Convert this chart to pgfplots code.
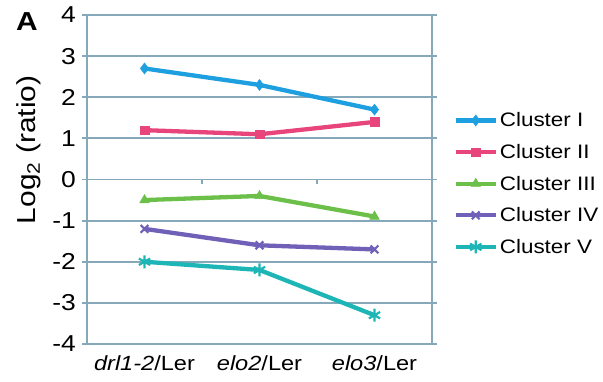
\documentclass[border=0pt]{standalone}
\usepackage{pgfplots}
\pgfplotsset{compat=1.18}
\usepackage{fontspec}
\setmainfont{Liberation Sans}[FakeStretch=1.15]
\definecolor{gridc}{HTML}{85A9BA}
\definecolor{c1}{HTML}{1E9FE0}
\definecolor{c2}{HTML}{E8457C}
\definecolor{c3}{HTML}{6CC04A}
\definecolor{c4}{HTML}{7060B8}
\definecolor{c5}{HTML}{1DB5B5}
\begin{document}
\begin{tikzpicture}
\useasboundingbox (0,0) rectangle (603pt,381pt);
\begin{axis}[
  at={(87pt,37pt)}, anchor=south west,
  scale only axis, width=345pt, height=329pt,
  xmin=-0.5, xmax=2.5, ymin=-4, ymax=4,
  xtick={0,1,2},
  xticklabels={\textit{drl1-2}/Ler, \textit{elo2}/Ler, \textit{elo3}/Ler},
  x tick style={draw=none},
  ytick={-4,-3,...,4},
  ymajorgrids,
  grid style={gridc, line width=1.8pt},
  axis line style={gridc, line width=1.8pt},
  y tick style={gridc, line width=1.8pt},
  tick align=outside, major tick length=5pt,
  /pgf/number format/assume math mode=true,
  yticklabel style={font=\fontsize{23}{26}\selectfont, inner sep=2pt, xshift=-4pt},
  xticklabel style={font=\fontsize{20.5}{23}\selectfont, yshift=-3pt},
  ylabel={Log\textsubscript{2} (ratio)},
  ylabel style={font=\fontsize{26}{30}\selectfont, at={(axis description cs:-0.168,0.59)}, anchor=center, rotate=0},
  legend style={draw=none, fill=none, at={(axis description cs:1.062,0.71)}, anchor=north west,
    font=\fontsize{19.5}{22}\selectfont, row sep=12pt, inner sep=0pt},
  legend cell align=left,
  legend image code/.code={\draw[#1, mark repeat=2, mark phase=2] plot coordinates {(0pt,0pt) (20pt,0pt) (40pt,0pt)};},
  clip=false,
]
\addplot[c1, line width=4.3pt, mark=diamond*, mark size=5.5pt, mark options={line width=0.5pt}] coordinates {(0,2.7) (1,2.3) (2,1.7)};
\addlegendentry{Cluster I}
\addplot[c2, line width=4.3pt, mark=square*, mark size=4.3pt, mark options={line width=0.5pt}] coordinates {(0,1.2) (1,1.1) (2,1.4)};
\addlegendentry{Cluster II}
\addplot[c3, line width=4.3pt, mark=triangle*, mark size=5.5pt, mark options={line width=0.5pt}] coordinates {(0,-0.5) (1,-0.4) (2,-0.9)};
\addlegendentry{Cluster III}
\addplot[c4, line width=4.3pt, mark=x, mark size=5.5pt, mark options={line width=2.2pt}] coordinates {(0,-1.2) (1,-1.6) (2,-1.7)};
\addlegendentry{Cluster IV}
\addplot[c5, line width=4.3pt, mark=asterisk, mark size=6.5pt, mark options={line width=2.2pt}] coordinates {(0,-2.0) (1,-2.2) (2,-3.3)};
\addlegendentry{Cluster V}
\draw[gridc, line width=1.8pt] (axis cs:0.5,0) -- (axis cs:0.5,-0.1);
\draw[gridc, line width=1.8pt] (axis cs:1.5,0) -- (axis cs:1.5,-0.1);
\node[font=\bfseries\fontsize{26}{30}\selectfont] at (axis description cs:-0.174,0.979) {A};
\end{axis}
\end{tikzpicture}
\end{document}
